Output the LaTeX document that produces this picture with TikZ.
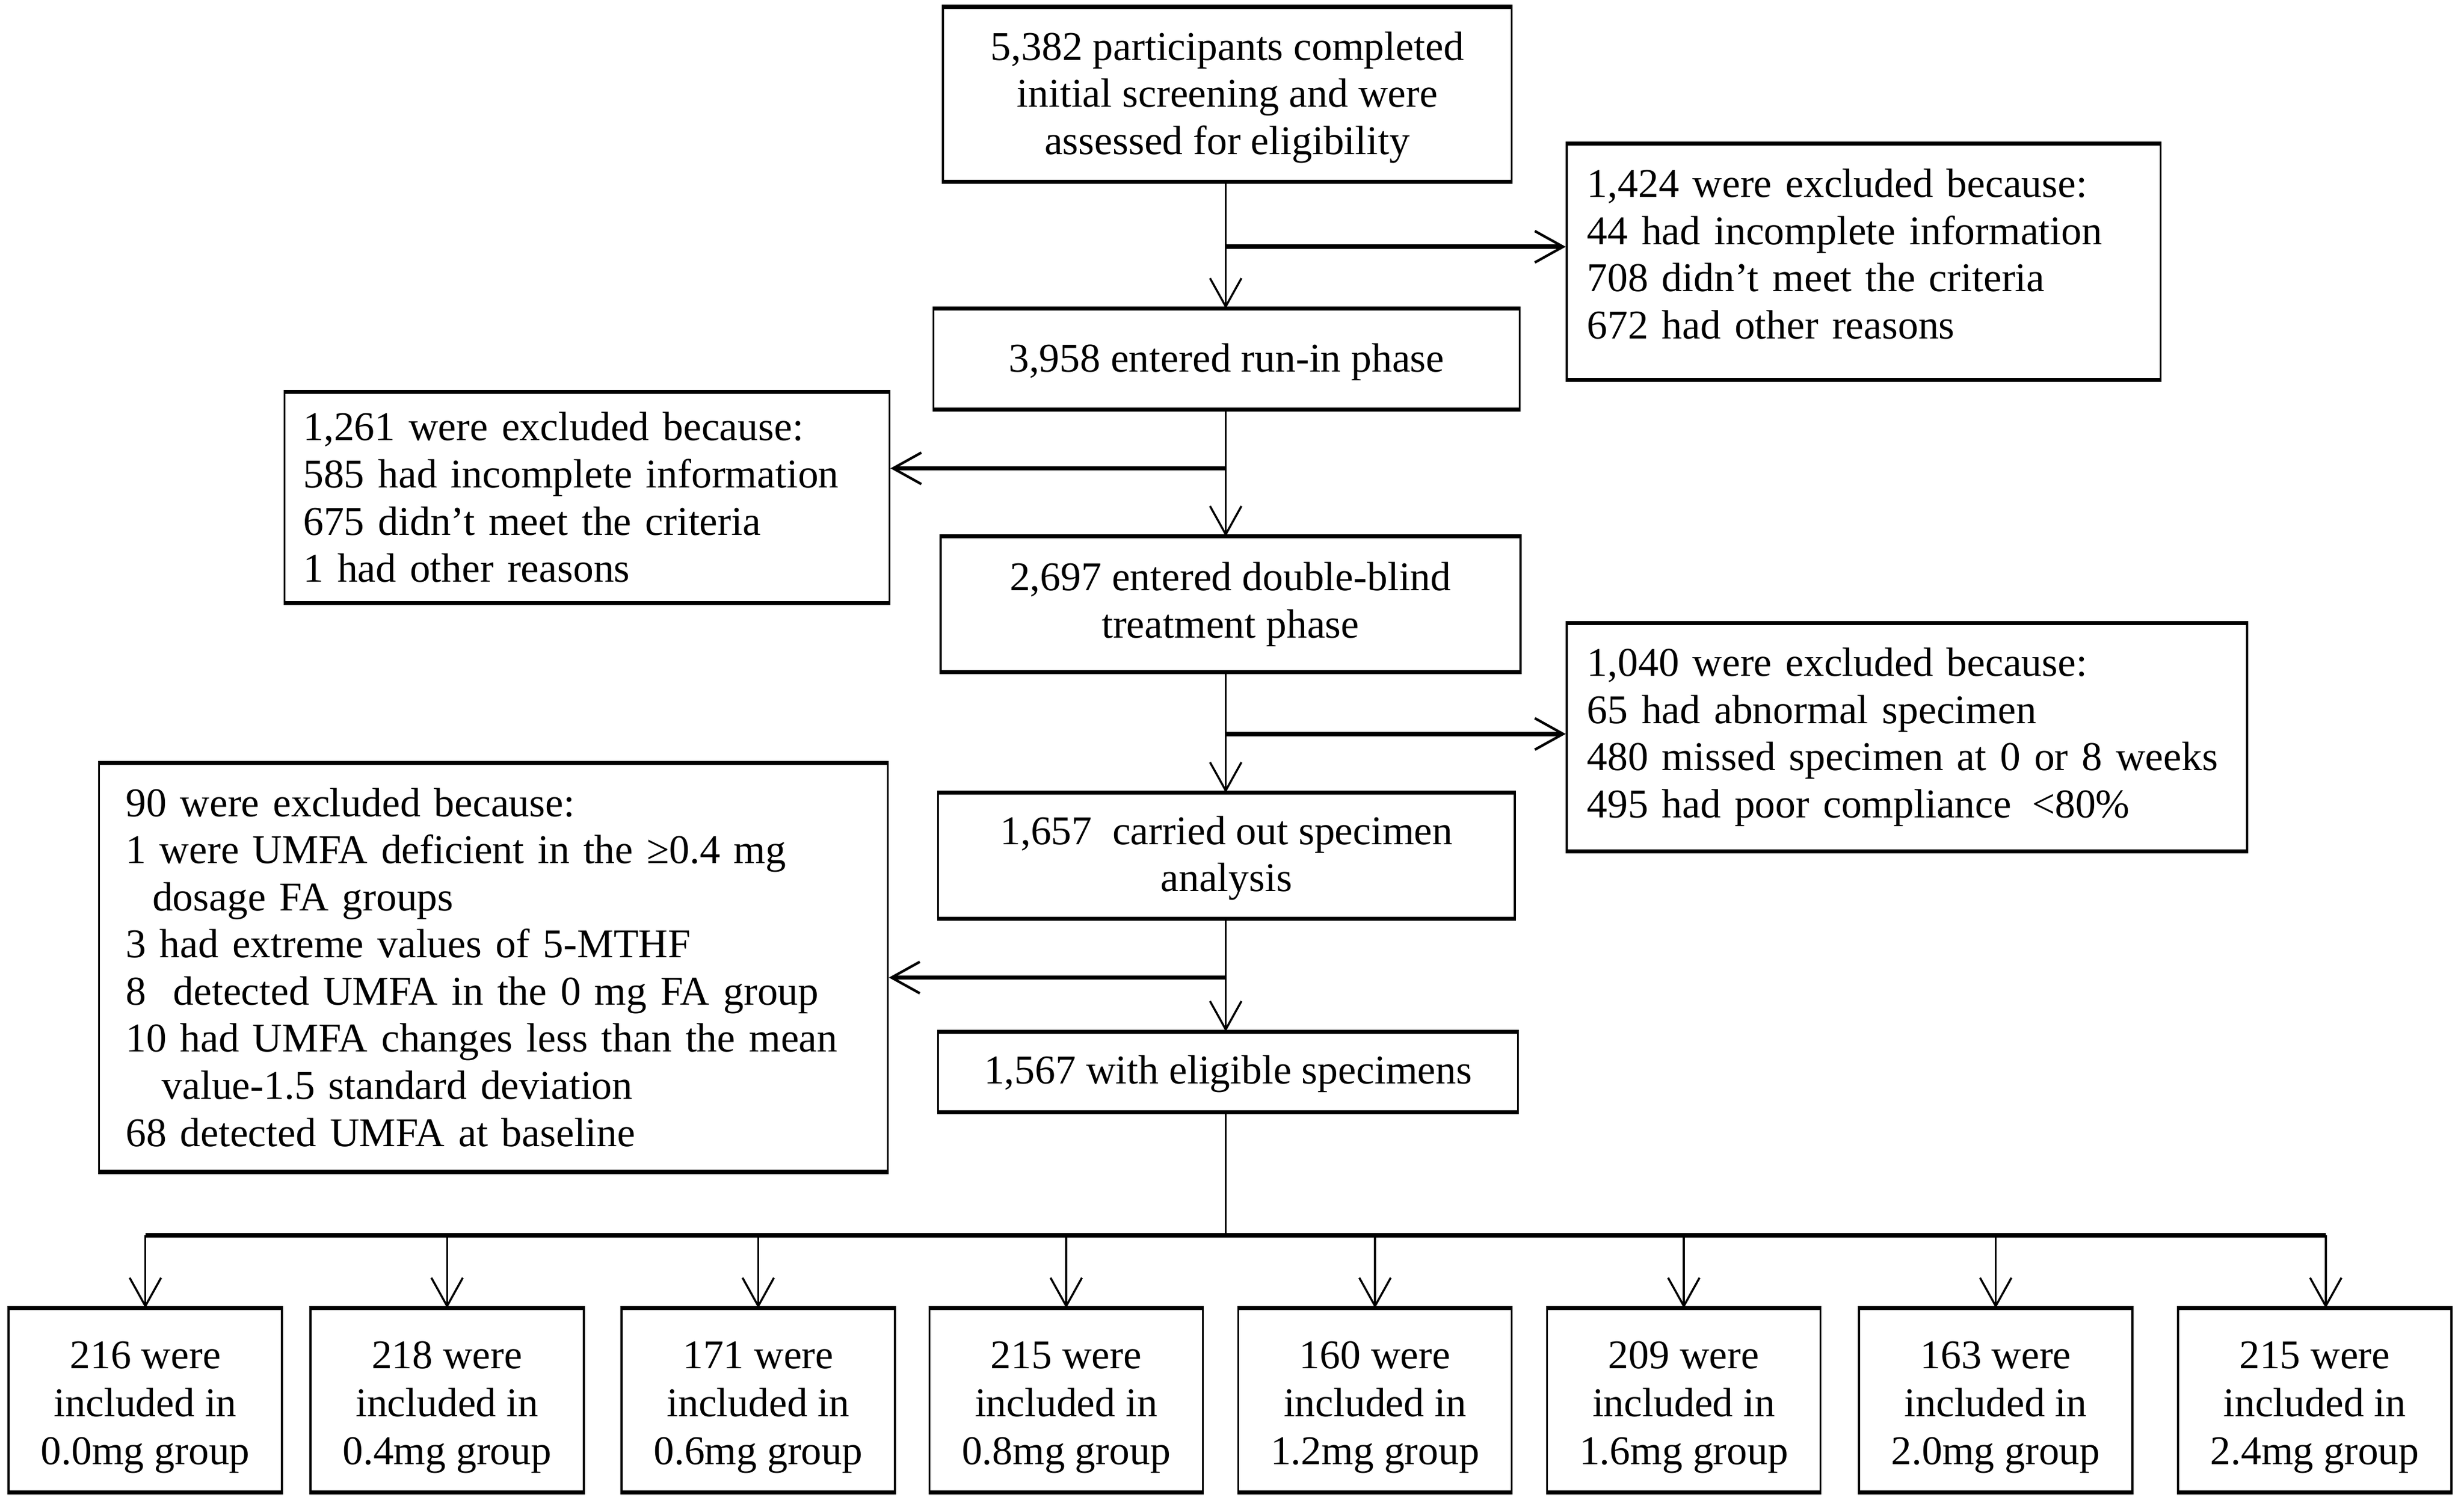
\documentclass[tikz,border=0pt]{standalone}
\usepackage{fontspec}
\setmainfont{Liberation Serif}
\usetikzlibrary{arrows.meta,calc}
\begin{document}
\begin{tikzpicture}[x=1pt,y=-1pt,
  every node/.style={font=\fontsize{26}{30}\selectfont},
  cbox/.style={draw,line width=1.3pt,align=center,inner sep=0pt},
  lbox/.style={draw,line width=1.3pt,align=left,inner ysep=0pt},
  gbox/.style={cbox,font=\fontsize{26}{30.5}\selectfont},
  arr/.style={line width=1.3pt,-{Straight Barb[length=18pt,width=20pt,line width=1.3pt]}},
  harr/.style={line width=2.8pt,-{Straight Barb[length=18pt,width=20pt,line width=1.6pt]}},
  edge/.style={line width=2.6pt},
  bus/.style={line width=2.8pt},
  plain/.style={line width=1.3pt}]
\useasboundingbox (0,0) rectangle (1568,956);
\node[cbox,minimum width=362pt,minimum height=110pt] (a) at (781,60)
  {\rule{0pt}{22pt}5,382 participants completed\\initial screening and were\\assessed for eligibility};
\node[lbox,inner xsep=13pt,text width=352pt,minimum height=149pt] (b) at (1186,166.5)
  {1,424 were excluded because:\\44 had incomplete information\\708 didn’t meet the criteria\\672 had other reasons\rule[-10pt]{0pt}{10pt}};
\node[cbox,minimum width=373pt,minimum height=63pt] (c) at (780.5,228.5)
  {\rule{0pt}{22pt}3,958 entered run-in phase};
\node[lbox,inner xsep=12pt,text width=361pt,minimum height=133pt] (d) at (373.5,316.5)
  {1,261 were excluded because:\\585 had incomplete information\\675 didn’t meet the criteria\\1 had other reasons};
\node[cbox,minimum width=369pt,minimum height=85pt] (e) at (783,384.5)
  {2,697 entered double-blind\\treatment phase};
\node[lbox,inner xsep=13pt,text width=407pt,minimum height=144pt] (f) at (1213.5,469)
  {1,040 were excluded because:\\65 had abnormal specimen\\480 missed specimen at 0 or 8 weeks\\495 had poor compliance \,<80\%};
\node[cbox,minimum width=367pt,minimum height=79pt] (g) at (780.5,544.5)
  {\rule{0pt}{21pt}1,657\ \ carried out specimen\\analysis};
\node[lbox,inner xsep=17pt,text width=468pt,minimum height=259pt] (h) at (314,615.5)
  {90 were excluded because:\\1 were UMFA deficient in the ≥0.4 mg\\\hspace*{17pt}dosage FA groups\\3 had extreme values of 5-MTHF\\8\ \ detected UMFA in the 0 mg FA group\\10 had UMFA changes less than the mean\\\hspace*{23pt}value-1.5 standard deviation\\68 detected UMFA at baseline};
\node[cbox,minimum width=369pt,minimum height=50pt] (i) at (781.5,682)
  {\rule{0pt}{21pt}1,567 with eligible specimens};
\foreach \n/\cx/\num/\dose in {g1/92.5/216/0.0, g2/284.5/218/0.4, g3/482.5/171/0.6, g4/678.5/215/0.8, g5/875/160/1.2, g6/1071.5/209/1.6, g7/1270/163/2.0, g8/1473/215/2.4}
  \node[gbox,minimum width=174pt,minimum height=116pt] (\n) at (\cx,891) {\rule{0pt}{26pt}\num\ were\\included in\\\dose mg group};
% thicker top and bottom edges
\foreach \n in {a,b,c,d,e,f,g,h,i,g1,g2,g3,g4,g5,g6,g7,g8}
  \draw[edge] (\n.north west) -- (\n.north east) (\n.south west) -- (\n.south east);
% junctions
\coordinate (j1) at (780,157);
\coordinate (j2) at (780,298);
\coordinate (j3) at (780,467);
\coordinate (j4) at (780,622);
\coordinate (jb) at (780,786);
\coordinate (last) at (1480,786);
% main flow
\draw[arr] (a.south -| j1) -- (c.north -| j1);
\draw[arr] (c.south -| j2) -- (e.north -| j2);
\draw[arr] (e.south -| j3) -- (g.north -| j3);
\draw[arr] (g.south -| j4) -- (i.north -| j4);
\draw[plain] (i.south -| jb) -- (jb);
% exclusions
\draw[harr] (j1) -- (j1 -| b.west);
\draw[harr] (j2) -- (j2 -| d.east);
\draw[harr] (j3) -- (j3 -| f.west);
\draw[harr] (j4) -- (j4 -| h.east);
% bus to groups
\draw[bus] (jb -| g1.north) -- (last);
\foreach \n in {g1,g2,g3,g4,g5,g6,g7}
  \draw[arr] (jb -| \n.north) -- (\n.north);
\draw[arr] (last) -- (last |- g8.north);
\end{tikzpicture}
\end{document}
